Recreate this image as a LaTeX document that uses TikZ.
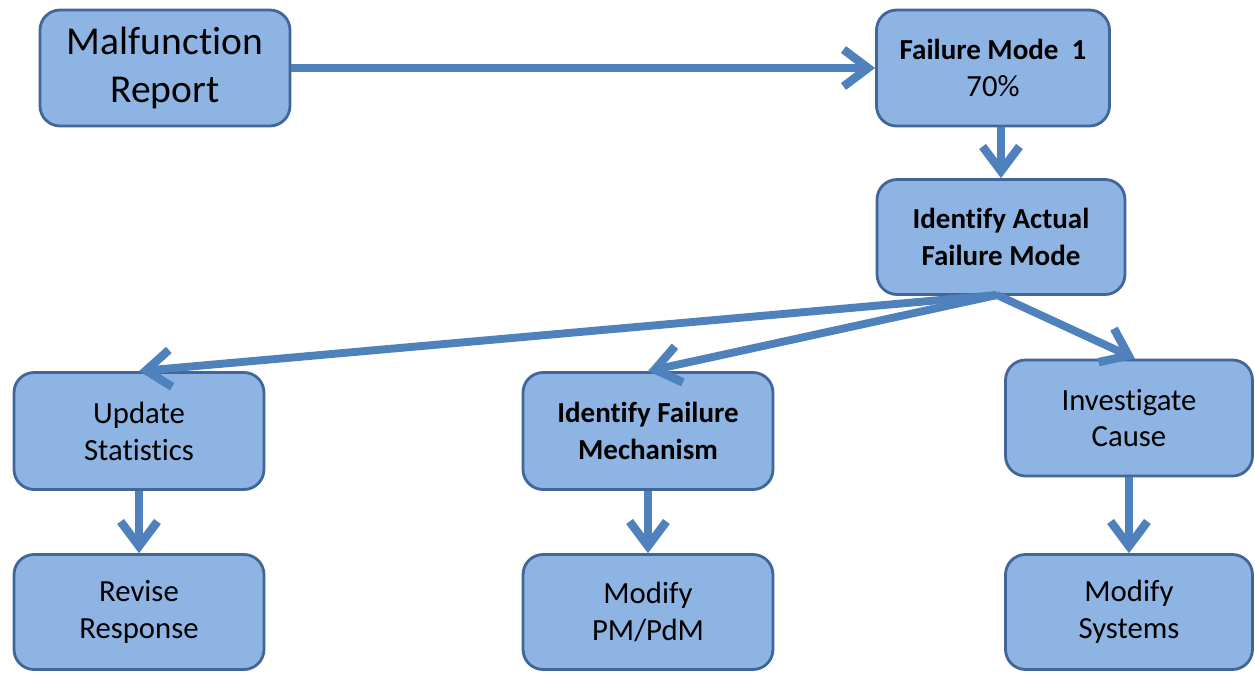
\documentclass[tikz,border=0pt]{standalone}
\usepackage{fontspec}
\setmainfont{Carlito}[Ligatures=NoCommon]
\usetikzlibrary{arrows.meta}
\definecolor{boxfill}{HTML}{8EB4E3}
\definecolor{boxline}{HTML}{41679A}
\definecolor{arrowcol}{HTML}{4F81BD}
\begin{document}
\begin{tikzpicture}[x=0.02cm,y=-0.02cm,
  boxnode/.style={draw=boxline, fill=boxfill, line width=1.6pt, rounded corners=0.4cm,
    align=center, inner sep=0pt, font=\fontsize{17.5}{21}\selectfont},
  boldbox/.style={boxnode, font=\fontsize{16.5}{21}\selectfont\bfseries},
  bigbox/.style={boxnode, font=\fontsize{22.5}{27}\selectfont},
  flowarrow/.style={draw=arrowcol, line width=4.5pt,
    -{Straight Barb[length=14pt,width=21pt,line width=4.8pt]}}]
\useasboundingbox (0,0) rectangle (1255,673);
\node[bigbox, minimum width=5cm, minimum height=2.32cm] (mal) at (165,68) {Malfunction\\Report};
\node[boldbox, minimum width=4.66cm, minimum height=2.32cm] (fm) at (993,68) {Failure Mode~~1\\\fontsize{17.5}{21}\selectfont\mdseries 70\%};
\node[boldbox, minimum width=4.96cm, minimum height=2.3cm] (iafm) at (1001,237) {Identify Actual\\Failure Mode};
\node[boxnode, minimum width=5cm, minimum height=2.34cm] (upd) at (139,431) {Update\\Statistics};
\node[boldbox, minimum width=5cm, minimum height=2.34cm] (mech) at (648,431) {Identify Failure\\Mechanism};
\node[boxnode, minimum width=4.94cm, minimum height=2.32cm] (inv) at (1129,418) {Investigate\\Cause};
\node[boxnode, minimum width=5cm, minimum height=2.3cm] (rev) at (139,612) {Revise\\Response};
\node[boxnode, minimum width=5cm, minimum height=2.3cm] (pm) at (648,612) {Modify\\PM/PdM};
\node[boxnode, minimum width=4.94cm, minimum height=2.3cm] (sys) at (1129,612) {Modify\\Systems};
\coordinate (split) at (997,295);
\draw[flowarrow] (mal.east) -- (fm.west);
\draw[flowarrow] (fm.south -| iafm.north) -- (iafm.north);
\draw[flowarrow] (split) -- (upd.north);
\draw[flowarrow] (split) -- (mech.north);
\draw[flowarrow] (split) -- ([xshift=0.12cm]inv.north);
\draw[flowarrow] (upd.south) -- (rev.north);
\draw[flowarrow] (mech.south) -- (pm.north);
\draw[flowarrow] (inv.south) -- (sys.north);
\end{tikzpicture}
\end{document}
